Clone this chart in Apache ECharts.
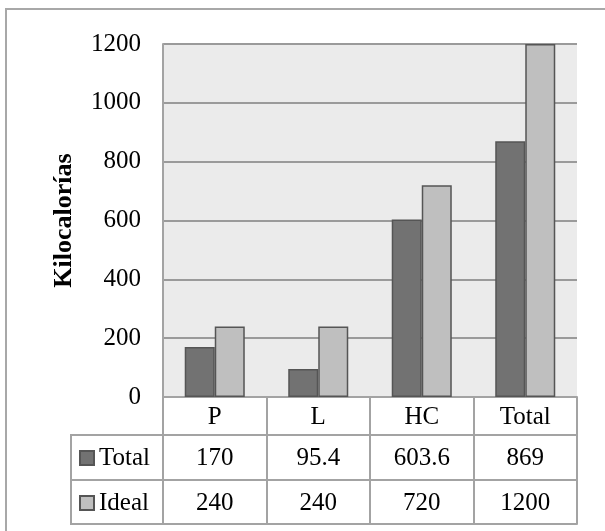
<!DOCTYPE html>
<html>
<head>
<meta charset="utf-8">
<script src="https://cdn.jsdelivr.net/npm/echarts@6/dist/echarts.min.js"></script>
<style>html,body{margin:0;padding:0;background:#fff}#c{width:605px;height:531px}</style>
</head>
<body>
<div id="c"></div>
<script>
var categories = ['P', 'L', 'HC', 'Total'];
var totalValues = [170, 95.4, 603.6, 869];
var idealValues = [240, 240, 720, 1200];
var seriesNames = ['Total', 'Ideal'];
var yTicks = [0, 200, 400, 600, 800, 1000, 1200];

var FONT = '"Liberation Serif", "Times New Roman", serif';
var LINE = '#a3a3a3';
var GL = 163, GT = 44, GW = 414, GH = 353;
var ROW1 = 38, ROW2 = 45, ROW3 = 44;
var LEGL = 71;
var FS = 25;

var chart = echarts.init(document.getElementById('c'));
var base = GT + GH;
function xAx(offset, tickLen, fmt, showLine) {
  return {
    type: 'category', data: categories, gridIndex: 0, position: 'bottom', offset: offset,
    boundaryGap: true,
    axisLine: { show: showLine !== false, lineStyle: { color: LINE, width: 2 } },
    axisTick: { show: tickLen > 0, length: tickLen, interval: 0, lineStyle: { color: LINE, width: 2 } },
    axisLabel: { show: !!fmt, interval: 0, formatter: fmt, fontFamily: FONT, fontSize: FS, color: '#000',
      margin: tickLen / 2 + 1, verticalAlign: 'middle' },
    splitLine: { show: false }
  };
}
chart.setOption({
  animation: false,
  backgroundColor: '#fff',
  grid: { left: GL, top: GT, width: GW, height: GH, show: true, backgroundColor: '#ebebeb', borderWidth: 0 },
  legend: {
    orient: 'vertical', left: 79, top: base + ROW1 + 10, padding: 0, itemWidth: 14, itemHeight: 14, itemGap: 19,
    icon: 'rect', selectedMode: false,
    textStyle: { fontFamily: FONT, fontSize: FS, color: '#000', lineHeight: 26 },
    data: seriesNames
  },
  xAxis: [
    xAx(0, ROW1, function (v) { return v; }),
    xAx(ROW1, ROW2, function (v, i) { return String(totalValues[i]); }),
    xAx(ROW1 + ROW2, ROW3, function (v, i) { return String(idealValues[i]); }),
    xAx(ROW1 + ROW2 + ROW3, 0, null)
  ],
  yAxis: {
    type: 'value', min: yTicks[0], max: yTicks[yTicks.length - 1], interval: 200,
    name: 'Kilocalorías', nameLocation: 'middle', nameGap: 86, nameRotate: 90,
    nameTextStyle: { fontFamily: FONT, fontSize: 26, fontWeight: 'bold', color: '#000' },
    axisLine: { show: true, lineStyle: { color: LINE, width: 2 } },
    axisTick: { show: false },
    axisLabel: { fontFamily: FONT, fontSize: FS, color: '#000', margin: 22, formatter: function (v) { return String(v); } },
    splitLine: { lineStyle: { color: '#9a9a9a', width: 2 } }
  },
  series: [
    { name: seriesNames[0], type: 'bar', data: totalValues, barGap: '0%', barCategoryGap: '42%',
      itemStyle: { color: '#727272', borderColor: '#555555', borderWidth: 1.5 } },
    { name: seriesNames[1], type: 'bar', data: idealValues,
      itemStyle: { color: '#bfbfbf', borderColor: '#555555', borderWidth: 1.5 } }
  ],
  graphic: [
    { type: 'rect', shape: { x: 6, y: 9, width: 700, height: 700 }, style: { fill: null, stroke: '#a8a8a8', lineWidth: 2 }, silent: true },
    { type: 'line', shape: { x1: LEGL, y1: base + ROW1, x2: GL, y2: base + ROW1 }, style: { stroke: LINE, lineWidth: 2 } },
    { type: 'line', shape: { x1: LEGL, y1: base + ROW1 + ROW2, x2: GL, y2: base + ROW1 + ROW2 }, style: { stroke: LINE, lineWidth: 2 } },
    { type: 'line', shape: { x1: LEGL, y1: base + ROW1 + ROW2 + ROW3, x2: GL, y2: base + ROW1 + ROW2 + ROW3 }, style: { stroke: LINE, lineWidth: 2 } },
    { type: 'line', shape: { x1: LEGL, y1: base + ROW1 - 1, x2: LEGL, y2: base + ROW1 + ROW2 + ROW3 + 1 }, style: { stroke: LINE, lineWidth: 2 } }
  ]
});
</script>
</body>
</html>
